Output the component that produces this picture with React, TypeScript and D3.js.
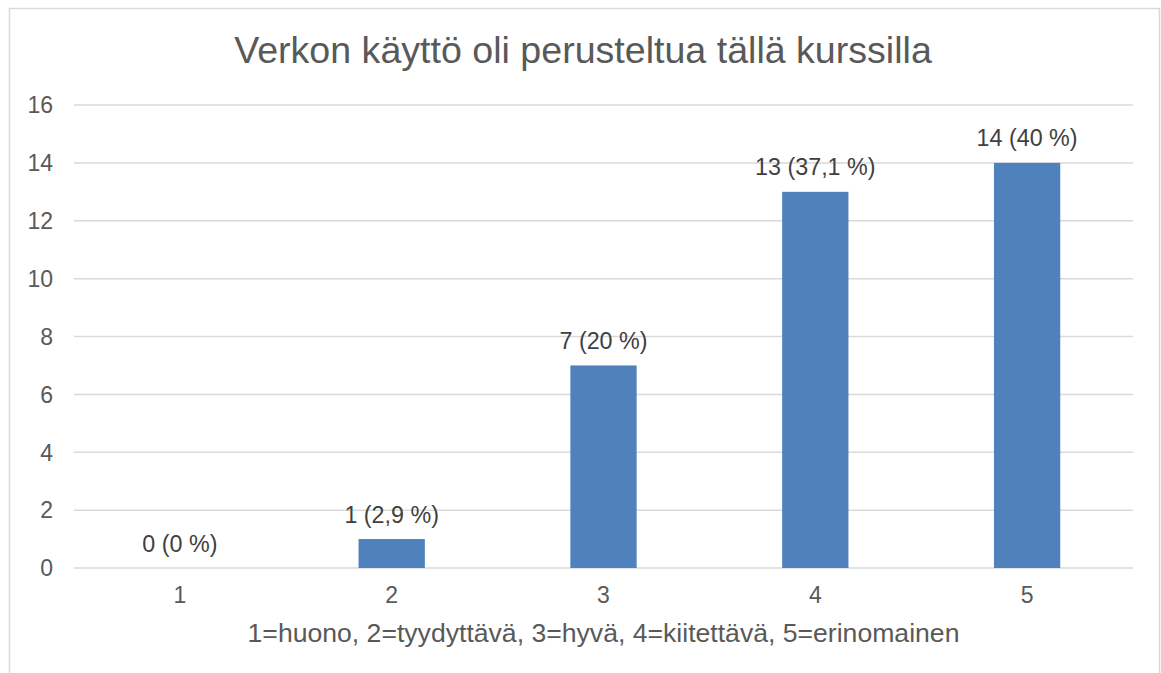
import { useRef, useEffect } from "react";
import * as d3 from "d3";

const categories = ["1", "2", "3", "4", "5"];
const counts = [0, 1, 7, 13, 14];
const percents = ["0 %", "2,9 %", "20 %", "37,1 %", "40 %"];
const yTicks = [0, 2, 4, 6, 8, 10, 12, 14, 16];
const title = "Verkon käyttö oli perusteltua tällä kurssilla";
const xTitle = "1=huono, 2=tyydyttävä, 3=hyvä, 4=kiitettävä, 5=erinomainen";

const App = () => {
  const svgRef = useRef<SVGSVGElement | null>(null);

  useEffect(() => {
    const svg = d3.select(svgRef.current);
    svg.selectAll("*").remove();

    const font = "'Liberation Sans', Arial, sans-serif";
    const left = 74;
    const right = 1133;
    const top = 105;
    const bottom = 568;

    // chart frame
    svg
      .append("rect")
      .attr("x", 9.5)
      .attr("y", 8.5)
      .attr("width", 1150)
      .attr("height", 700)
      .attr("fill", "white")
      .attr("stroke", "#d9d9d9")
      .attr("stroke-width", 1.5);

    const x = d3
      .scaleBand()
      .domain(categories)
      .range([left, right])
      .paddingInner(0.687)
      .paddingOuter(0.3435);

    const y = d3.scaleLinear().domain([0, 16]).range([bottom, top]);

    svg
      .append("g")
      .selectAll("line")
      .data(yTicks)
      .enter()
      .append("line")
      .attr("x1", left)
      .attr("x2", right)
      .attr("y1", (d) => y(d))
      .attr("y2", (d) => y(d))
      .attr("stroke", "#d9d9d9")
      .attr("stroke-width", 1.5);

    svg
      .append("g")
      .selectAll("text")
      .data(yTicks)
      .enter()
      .append("text")
      .attr("x", 53)
      .attr("y", (d) => y(d))
      .attr("dy", "0.36em")
      .attr("text-anchor", "end")
      .attr("font-family", font)
      .attr("font-size", 23)
      .attr("fill", "#595959")
      .text((d) => d);

    const data = categories.map((c, i) => ({ c, v: counts[i], p: percents[i] }));

    svg
      .append("g")
      .selectAll("rect")
      .data(data)
      .enter()
      .append("rect")
      .attr("x", (d) => x(d.c)!)
      .attr("y", (d) => y(d.v))
      .attr("width", x.bandwidth())
      .attr("height", (d) => y(0) - y(d.v))
      .attr("fill", "#4f81bd");

    svg
      .append("g")
      .selectAll("text")
      .data(data)
      .enter()
      .append("text")
      .attr("x", (d) => x(d.c)! + x.bandwidth() / 2)
      .attr("y", (d) => y(d.v) - 16.5)
      .attr("text-anchor", "middle")
      .attr("font-family", font)
      .attr("font-size", 23.3)
      .attr("fill", "#404040")
      .text((d) => `${d.v} (${d.p})`);

    svg
      .append("g")
      .selectAll("text")
      .data(categories)
      .enter()
      .append("text")
      .attr("x", (d) => x(d)! + x.bandwidth() / 2)
      .attr("y", 603)
      .attr("text-anchor", "middle")
      .attr("font-family", font)
      .attr("font-size", 23)
      .attr("fill", "#595959")
      .text((d) => d);

    svg
      .append("text")
      .attr("x", (left + right) / 2)
      .attr("y", 642)
      .attr("text-anchor", "middle")
      .attr("font-family", font)
      .attr("font-size", 26.6)
      .attr("fill", "#595959")
      .text(xTitle);

    svg
      .append("text")
      .attr("x", 583)
      .attr("y", 63)
      .attr("text-anchor", "middle")
      .attr("font-family", font)
      .attr("font-size", 37.6)
      .attr("fill", "#595959")
      .text(title);
  }, []);

  return (
    <svg
      ref={svgRef}
      width={1161}
      height={673}
      style={{ position: "absolute", left: 0, top: 0, background: "white" }}
    ></svg>
  );
};

export default App;
